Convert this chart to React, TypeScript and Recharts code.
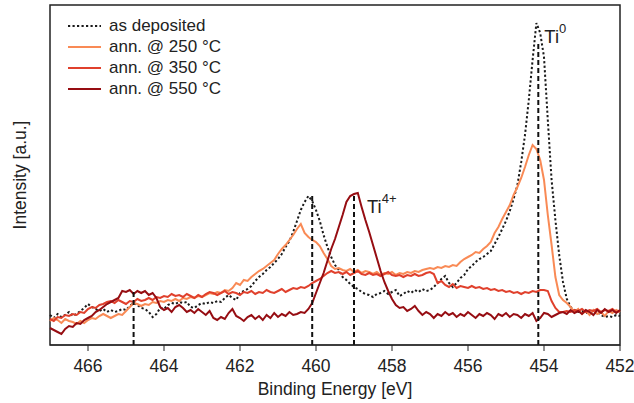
import React from 'react';
import {
  LineChart, Line, XAxis, YAxis, Legend, ReferenceLine, ReferenceArea, ReferenceDot,
} from 'recharts';

// Binding energy grid, 467 -> 452 eV in 0.1 eV steps (151 points)
const energy: number[] = Array.from({ length: 151 }, (_, i) => +(467 - i * 0.1).toFixed(1));

// Intensities (a.u.)
const asDeposited = [
  30, 27, 31, 28, 30, 33, 29, 31, 34, 37,
  41, 38, 36, 34, 36, 33, 35, 33, 34, 36,
  35, 39, 42, 40, 37, 36, 33, 28, 31, 37,
  36, 40, 42, 41, 43, 42, 43, 38, 37, 40,
  42, 41, 43, 42, 44, 43, 47, 50, 47, 45,
  52, 54, 56, 59, 64, 68, 71, 75, 78, 82,
  86, 91, 98, 104, 113, 124, 135, 143, 149, 144,
  135, 124, 110, 98, 88, 80, 75, 68, 65, 61,
  58, 56, 53, 51, 50, 48, 51, 52, 54, 51,
  53, 55, 49, 51, 54, 52, 55, 53, 56, 54,
  55, 58, 62, 66, 69, 62, 58, 62, 67, 70,
  76, 79, 83, 86, 88, 91, 94, 101, 108, 116,
  124, 134, 146, 160, 183, 210, 245, 285, 322, 312,
  288, 225, 165, 125, 90, 63, 46, 38, 35, 33,
  34, 32, 33, 31, 33, 30, 28, 29, 28, 30,
  29,
];

const ann250 = [
  24, 27, 25, 22, 26, 24, 23, 21, 24, 22,
  25, 27, 26, 29, 31, 29, 27, 29, 31, 30,
  34, 38, 42, 41, 39, 41, 40, 43, 42, 44,
  43, 45, 44, 46, 44, 47, 46, 48, 47, 49,
  48, 50, 52, 51, 53, 52, 55, 54, 57, 62,
  60, 65, 64, 68, 71, 74, 76, 79, 82, 85,
  91, 96, 100, 105, 110, 116, 121, 112, 108, 105,
  103, 99, 92, 86, 79, 76, 77, 75, 74, 76,
  73, 75, 72, 74, 73, 71, 73, 70, 72, 71,
  73, 70, 72, 71, 73, 72, 74, 73, 75, 76,
  77, 76, 78, 77, 79, 78, 80, 79, 83, 86,
  88, 90, 93, 92, 96, 99, 103, 112, 118, 126,
  133, 140, 150, 158, 167, 178, 190, 200, 196, 185,
  165, 130, 100, 68, 50, 45, 42, 38, 33, 36,
  31, 34, 30, 35, 31, 33, 29, 34, 32, 35,
  33,
];

const ann350 = [
  26, 24, 28, 27, 30, 29, 31, 30, 33, 32,
  36, 38, 37, 40, 41, 43, 44, 42, 45, 43,
  41, 44, 43, 46, 44, 45, 47, 45, 48, 47,
  49, 48, 51, 49, 50, 48, 51, 49, 47, 50,
  48, 51, 53, 52, 50, 52, 54, 51, 53, 52,
  50, 53, 52, 54, 51, 53, 52, 55, 53, 52,
  54, 56, 53, 55, 57, 56, 58, 57, 59, 62,
  64, 66, 69, 72, 74, 72, 73, 71, 73, 70,
  72, 74, 71, 70, 72, 70, 71, 69, 71, 73,
  70, 69, 70, 68, 70, 69, 71, 69, 70, 72,
  73, 71, 62, 64, 60, 58, 61, 57, 59, 58,
  57, 59, 57, 58, 56, 57, 55, 56, 54, 55,
  53, 54, 52, 53, 51, 53, 52, 54, 53, 55,
  55, 54, 44, 37, 33, 33, 34, 33, 35, 34,
  36, 33, 35, 34, 36, 33, 35, 34, 36, 33,
  34,
];

const ann550 = [
  17, 15, 13, 11, 16, 19, 18, 22, 21, 25,
  27, 29, 33, 35, 38, 41, 43, 45, 47, 54,
  53, 55, 51, 54, 52, 54, 50, 52, 47, 38,
  35, 37, 33, 38, 40, 37, 33, 35, 32, 36,
  33, 30, 34, 27, 25, 28, 26, 32, 36, 29,
  27, 24, 28, 30, 26, 29, 25, 30, 27, 32,
  28, 31, 29, 33, 30, 31, 33, 32, 36, 42,
  52, 62, 72, 84, 96, 106, 118, 130, 143, 149,
  151, 152, 138, 125, 113, 100, 87, 74, 63, 54,
  46, 40, 37, 38, 34, 36, 39, 34, 30, 33,
  31, 27, 31, 29, 33, 30, 32, 28, 31, 29,
  33, 30, 27, 31, 29, 32, 30, 26, 31, 29,
  32, 28, 31, 30, 27, 31, 29, 32, 24, 27,
  32, 31, 28, 30, 32, 33, 31, 35, 32, 34,
  31, 35, 33, 30, 35, 32, 36, 33, 35, 32,
  35,
];

const xTicks = [466, 464, 462, 460, 458, 456, 454, 452];

// Dashed guide lines: position and height they reach
const guideEnergy = [464.8, 460.1, 459.0, 454.15];
const guideTop = [53, 150, 152, 302];

const SERIES = [
  { key: 'asDep', name: 'as deposited', color: '#1a1a1a', dash: '2.2 2.3' },
  { key: 'a250', name: 'ann. @ 250 °C', color: '#f98a55', dash: undefined },
  { key: 'a350', name: 'ann. @ 350 °C', color: '#e0402c', dash: undefined },
  { key: 'a550', name: 'ann. @ 550 °C', color: '#960d12', dash: undefined },
];

const data = energy.map((e, i) => ({
  energy: e,
  asDep: asDeposited[i],
  a250: ann250[i],
  a350: ann350[i],
  a550: ann550[i],
}));

const FONT = '"Liberation Sans", Arial, sans-serif';
const INK = '#222';

function LegendBox() {
  return (
    <div style={{ fontFamily: FONT, fontSize: 17, color: INK }}>
      {SERIES.map((s) => (
        <div key={s.key} style={{ display: 'flex', alignItems: 'center', height: 21, lineHeight: '21px' }}>
          <svg width={33} height={4} style={{ display: 'block' }}>
            <line x1={0} y1={2} x2={33} y2={2} stroke={s.color} strokeWidth={2} strokeDasharray={s.dash} />
          </svg>
          <span style={{ marginLeft: 8, whiteSpace: 'nowrap' }}>{s.name}</span>
        </div>
      ))}
    </div>
  );
}

function peakLabel(main: string, sup: string, dx: number, dy: number) {
  return (props: any) => {
    const vb = props.viewBox || {};
    return (
      <text x={vb.x + dx} y={vb.y + dy} fontFamily={FONT} fontSize={18.5} fill={INK}>
        {main}
        <tspan dy={-10} fontSize={13}>{sup}</tspan>
      </text>
    );
  };
}

function yTitle(props: any) {
  const vb = props.viewBox || {};
  const cx = vb.x + 26;
  const cy = vb.y + vb.height / 2;
  return (
    <text x={cx} y={cy} transform={`rotate(-90, ${cx}, ${cy})`} textAnchor="middle"
      fontFamily={FONT} fontSize={17.5} fill={INK}>
      Intensity [a.u.]
    </text>
  );
}

export default function App() {
  return (
    <div style={{ position: 'absolute', left: 0, top: 0, width: 634, height: 403, background: '#fff' }}>
      <LineChart width={634} height={403} data={data}
        margin={{ top: 5, right: 14, left: 0, bottom: 28 }}
        style={{ fontFamily: FONT }}>
        <XAxis dataKey="energy" type="number" domain={[452, 467]} reversed
          ticks={xTicks} interval={0} height={30}
          tickSize={6} tickMargin={9}
          stroke={INK} tick={{ fontSize: 17.5, fill: INK }}
          label={{ value: 'Binding Energy [eV]', position: 'bottom', offset: 7.5, fontSize: 17.5, fill: INK }} />
        <YAxis type="number" domain={[0, 340]} width={50} tick={false} tickLine={false}
          axisLine={false} label={yTitle} />
        <ReferenceArea x1={467} x2={452} y1={0} y2={340} fill="none" fillOpacity={0}
          stroke={INK} strokeWidth={1.5} />
        <Legend layout="vertical" align="center" verticalAlign="middle"
          content={() => <LegendBox />}
          wrapperStyle={{ left: 68, top: 15, width: 'auto', height: 'auto' }} />
        {SERIES.map((s) => (
          <Line key={s.key} type="linear" dataKey={s.key} name={s.name}
            stroke={s.color} strokeWidth={2} strokeDasharray={s.dash}
            dot={false} activeDot={false} isAnimationActive={false} />
        ))}
        {guideEnergy.map((e, i) => (
          <ReferenceLine key={e}
            segment={[{ x: e, y: 0 }, { x: e, y: guideTop[i] }]}
            stroke="#111" strokeWidth={2} strokeDasharray="5 3" />
        ))}
        <ReferenceDot x={guideEnergy[3]} y={guideTop[3]} r={0} fill="none" stroke="none"
          label={peakLabel('Ti', '0', 6, 0)} />
        <ReferenceDot x={guideEnergy[2]} y={guideTop[2]} r={0} fill="none" stroke="none"
          label={peakLabel('Ti', '4+', 13, 20)} />
      </LineChart>
    </div>
  );
}
